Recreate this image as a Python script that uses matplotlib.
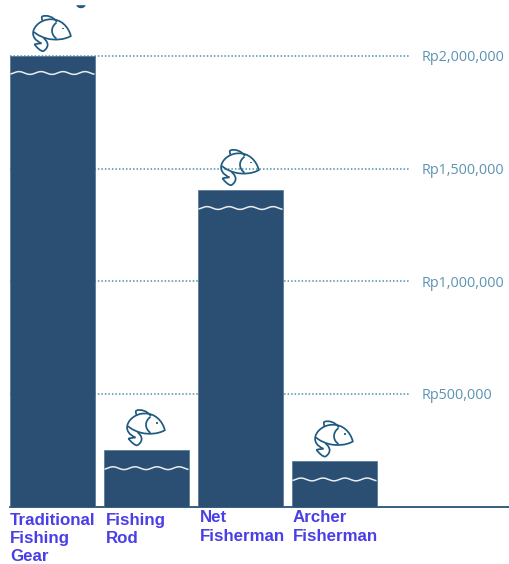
import numpy as np
import matplotlib
matplotlib.use("Agg")
import matplotlib.pyplot as plt
from matplotlib.path import Path
from matplotlib.patches import PathPatch, Ellipse
from matplotlib.transforms import Affine2D, ScaledTranslation

categories = ["Traditional\nFishing\nGear", "Fishing\nRod", "Net\nFisherman", "Archer\nFisherman"]
values = [2000000, 250000, 1405000, 200000]
tick_values = [500000, 1000000, 1500000, 2000000]
tick_labels = ["Rp500,000", "Rp1,000,000", "Rp1,500,000", "Rp2,000,000"]

W, H = 510, 564
BAR = "#2b4f73"
GRID = "#4f8fae"
TICK = "#5b93b3"
LABEL = "#4a3fe6"
FISH = "#1f5a80"

fig = plt.figure(figsize=(W / 100, H / 100), dpi=100, facecolor="white")
bottom_px = 506.5
ax = fig.add_axes([10 / W, (H - bottom_px) / H, 500 / W, bottom_px / H])
ax.set_xlim((10 - 52.5) / 94, (510 - 52.5) / 94)
ax.set_ylim(0, 2000000 * bottom_px / 450.5)

x = np.arange(len(categories))
ax.bar(x, values, width=85 / 94, color=BAR, edgecolor="#4f7394", linewidth=0.5, zorder=3)

ax.hlines(tick_values, 0, 0.8, transform=ax.get_yaxis_transform(), colors=GRID,
          linestyles=(0, (1, 1.3)), linewidth=1.1, zorder=2)

ax.yaxis.tick_right()
ax.set_yticks(tick_values)
ax.set_yticklabels(tick_labels, family="Open Sans", fontsize=10.4, color=TICK)
ax.tick_params(axis="y", length=0, pad=-63.4)
ax.set_xticks([])
for s in ["top", "left", "right"]:
    ax.spines[s].set_visible(False)
ax.spines["bottom"].set_color("#245372")
ax.spines["bottom"].set_linewidth(1.3)


def anchored(i, v, dx=0.0, dy=0.0, scale=1.0):
    """Pixel-space drawing (y down) anchored at a bar's top centre."""
    return (Affine2D().scale(scale, -scale).translate(dx, -dy)
            + ScaledTranslation(i, v, ax.transData))


M, L, C4 = Path.MOVETO, Path.LINETO, Path.CURVE4
# Icon outlines, in 1/3 pixel units relative to the bar's top centre
body = Path([(-33, -38), (-52, -46), (-62, -60), (-57, -76),
             (-52, -94), (-30, -110), (-7, -110),
             (25, -112), (48, -88), (55, -60),
             (35, -48), (5, -47), (-15, -52),
             (-30, -56), (-45, -62), (-55, -72)],
            [M, C4, C4, C4, C4, C4, C4, C4, C4, C4, C4, C4, C4, C4, C4, C4])
gill = Path([(12, -100), (-6, -87), (-6, -65), (12, -52)], [M, C4, C4, C4])
fin = Path([(-30, -106), (-32, -112), (-34, -117), (-30, -119),
            (-18, -124), (3, -118), (13, -102)], [M, C4, C4, C4, C4, C4, C4])
tail = Path([(-33, -38), (-44, -37), (-50, -36), (-54, -35),
             (-47, -25), (-33, -12), (-27, -15),
             (-18, -20), (-13, -30), (-15, -37),
             (-17, -45), (-22, -50), (-27, -54)],
            [M, C4, C4, C4, C4, C4, C4, C4, C4, C4, C4, C4, C4])
eye = Path([(32, -84), (32, -80)], [M, L])

wave_off = [17, 18, 18, 18]
for i, v in enumerate(values):
    for p in (body, gill, fin, tail, eye):
        ax.add_patch(PathPatch(p, fc="none", ec=FISH, lw=1.25, zorder=5, clip_on=False,
                               transform=anchored(i, v, scale=1 / 3)))
    xs = np.linspace(-42, 42, 170)
    wave = Path(np.column_stack([xs, 1.4 * np.sin(2 * np.pi * (xs + 6) / 22)]))
    ax.add_patch(PathPatch(wave, fc="none", ec="#e6ecf2", lw=1.1, zorder=4,
                           transform=anchored(i, v, dy=wave_off[i])))

label_px = [(10, 513), (106, 512.5), (200, 510.5), (293, 510.5)]
for text, (px, py) in zip(categories, label_px):
    fig.text(px / W, 1 - py / H, text, family="Liberation Sans", weight="bold", fontsize=12.2,
             color=LABEL, ha="left", va="top", linespacing=1.27)

fig.add_artist(Ellipse((81, H - 4.5), 8, 6, color="#1f5a80", transform=Affine2D()))
fig.add_artist(plt.Rectangle((70, H - 4), 22, 4, color="white", transform=Affine2D()))

fig.savefig("out.png", dpi=100)
